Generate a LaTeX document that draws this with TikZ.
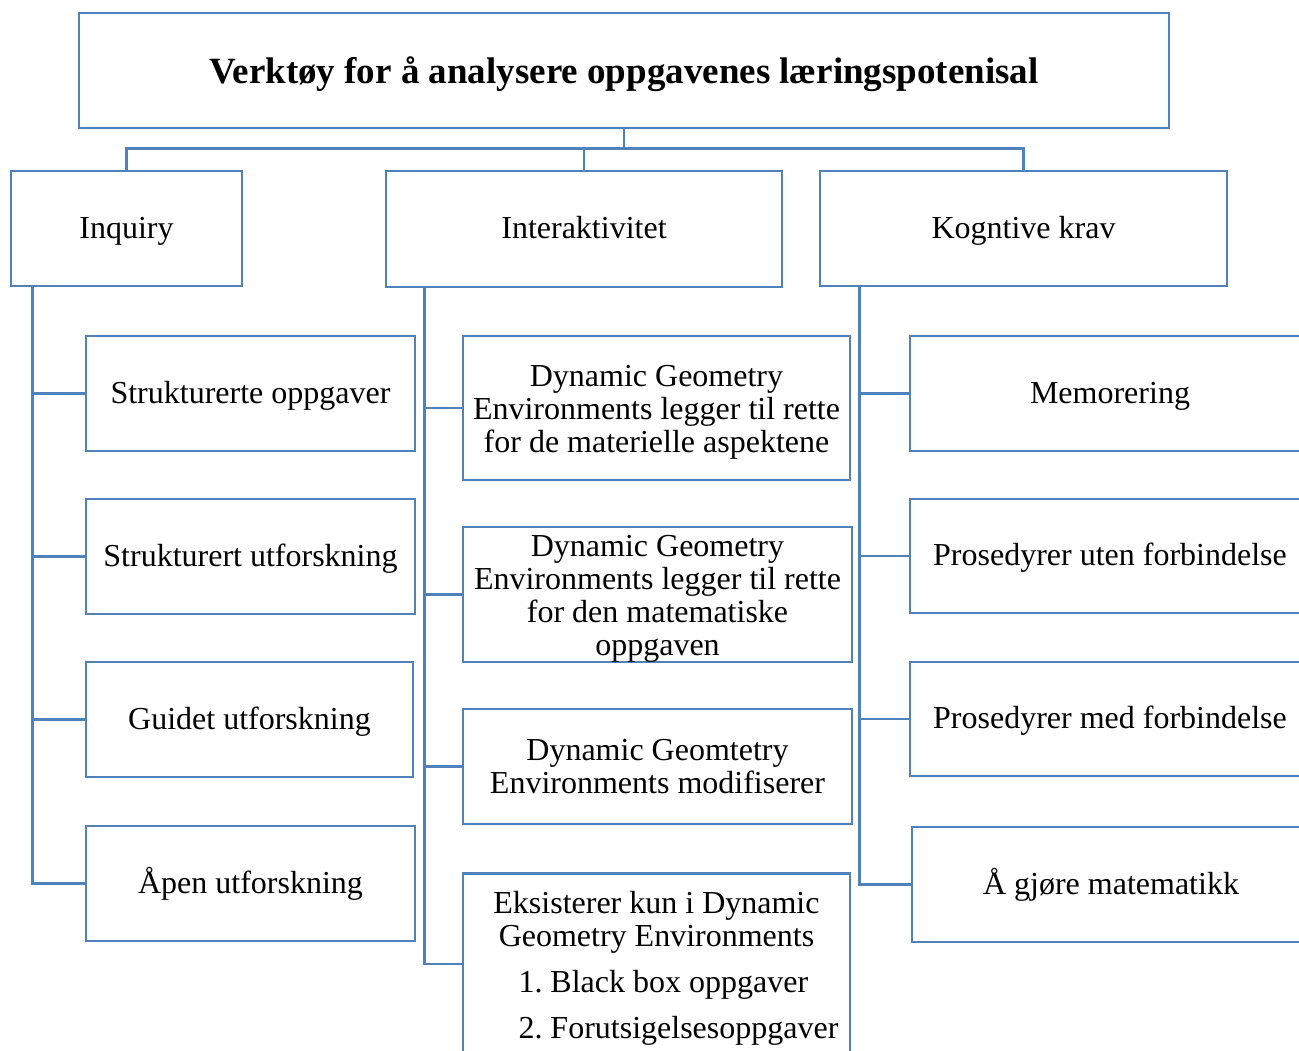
\documentclass[tikz,border=0pt]{standalone}
\usepackage{fontspec}
\setmainfont{Liberation Serif}
\definecolor{boksblaa}{RGB}{79,129,189}
\newcommand{\topp}{\rule{0pt}{29pt}}
\tikzset{
    boks/.style={draw=boksblaa, line width=2.8pt, inner sep=0pt, align=center,
        font=\fontsize{32}{33}\selectfont\frenchspacing},
    en/.style={text height=24pt, text depth=5pt},
    linje/.style={draw=boksblaa, line width=2.8pt},
}
\begin{document}
\begin{tikzpicture}[x=1pt,y=-1pt]
    % Ramme
    \useasboundingbox (0,0) rectangle (1299,1050);
    \clip (0,0) rectangle (1299,1050);

    % Tittel
    \node[boks, minimum width=1090pt, minimum height=115pt, text height=30pt, text depth=5pt,
        font=\fontsize{37}{40}\selectfont\bfseries] (tittel) at (624,70.5)
        {Verktøy for å analysere oppgavenes læringspotenisal};

    % Hovedkategorier
    \node[boks, en, minimum width=231pt, minimum height=115pt] (inquiry) at (126.5,228.5) {Inquiry};
    \node[boks, en, minimum width=396pt, minimum height=116pt] (inter) at (584,229) {Interaktivitet};
    \node[boks, en, minimum width=407pt, minimum height=115pt] (krav) at (1023.5,228.5) {Kogntive krav};

    % Inquiry
    \node[boks, en, minimum width=329pt, minimum height=115pt] (s1) at (250.5,393.5) {Strukturerte oppgaver};
    \node[boks, en, minimum width=329pt, minimum height=115pt] (s2) at (250.5,556.5) {Strukturert utforskning};
    \node[boks, en, minimum width=327pt, minimum height=115pt] (s3) at (249.5,719.5) {Guidet utforskning};
    \node[boks, en, minimum width=329pt, minimum height=115pt] (s4) at (250.5,883.5) {Åpen utforskning};

    % Interaktivitet
    \node[boks, minimum width=387pt, minimum height=144pt] (d1) at (656.5,408)
        {\topp Dynamic Geometry\\Environments legger til rette\\for de materielle aspektene};
    \node[boks, minimum width=389pt, minimum height=133pt] (d2) at (657.5,594.5)
        {\topp Dynamic Geometry\\Environments legger til rette\\for den matematiske\\oppgaven};
    \node[boks, minimum width=389pt, minimum height=115pt] (d3) at (657.5,766.5)
        {Dynamic Geomtetry\\Environments modifiserer};
    \node[boks, minimum width=387pt, anchor=north, inner ysep=18pt] (d4) at (656.5,872)
        {Eksisterer kun i Dynamic\\Geometry Environments\\[13pt]
        \hspace*{44pt}{\begin{tabular}[t]{@{}l@{}}1. Black box oppgaver\\[13pt]2. Forutsigelsesoppgaver\end{tabular}}};

    % Kognitive krav
    \node[boks, en, minimum width=400pt, minimum height=115pt] (k1) at (1110,393.5) {Memorering};
    \node[boks, en, minimum width=400pt, minimum height=114pt] (k2) at (1110,556) {Prosedyrer uten forbindelse};
    \node[boks, en, minimum width=400pt, minimum height=114pt] (k3) at (1110,719) {Prosedyrer med forbindelse};
    \node[boks, en, minimum width=398pt, minimum height=115pt] (k4) at (1111,884.5) {Å gjøre matematikk};

    % Linjer fra tittelen
    \draw[linje] (tittel.south) -- ++(0,19) coordinate (buss);
    \draw[linje] (inquiry.north) |- (buss) -| (krav.north);
    \draw[linje] (inter.north) -- (inter.north |- buss);

    % Linjer i kolonnene
    \coordinate (inqrot) at ([xshift=23pt]inquiry.south west);
    \coordinate (interrot) at ([xshift=40pt]inter.south west);
    \coordinate (kravrot) at ([xshift=41pt]krav.south west);
    \coordinate (d4inn) at ([yshift=-92pt]d4.north west);

    \draw[linje] (inqrot) |- (s4.west);
    \foreach \n in {s1,s2,s3}
        \draw[linje] (inqrot |- \n.west) -- (\n.west);

    \draw[linje] (interrot) |- (d4inn);
    \foreach \n in {d1,d2,d3}
        \draw[linje] (interrot |- \n.west) -- (\n.west);

    \draw[linje] (kravrot) |- (k4.west);
    \foreach \n in {k1,k2,k3}
        \draw[linje] (kravrot |- \n.west) -- (\n.west);
\end{tikzpicture}
\end{document}
